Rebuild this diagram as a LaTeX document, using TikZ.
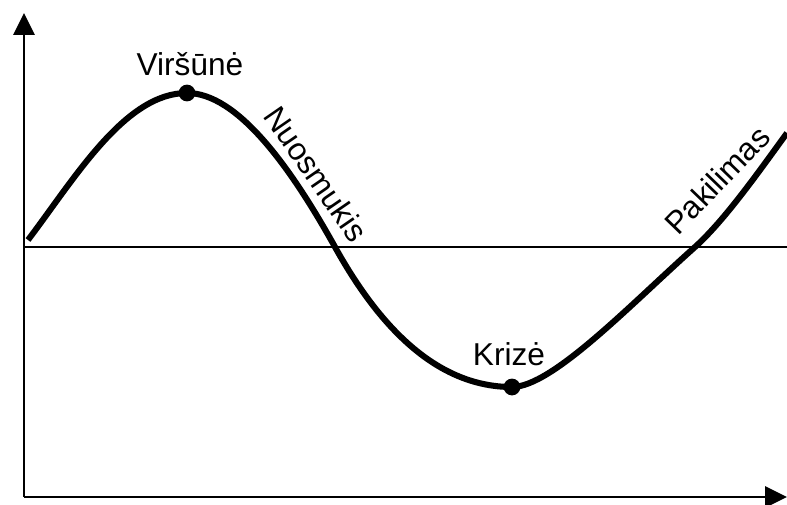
\documentclass[tikz,border=0pt]{standalone}
\usepackage{fontspec}
\setmainfont{Liberation Sans}
\usepackage{tikz}
\usetikzlibrary{arrows.meta,positioning}

\begin{document}
\begin{tikzpicture}[
    axis/.style={line width=2pt, -{Triangle[length=15.6pt, width=15pt]}},
    mid/.style={line width=1.9pt},
    wave/.style={line width=4.3pt},
    dot/.style={circle, fill=black, inner sep=0pt, minimum size=0.42cm},
    lbl/.style={font=\fontsize{22.5}{26}\selectfont, inner sep=0pt}
]
\useasboundingbox (0,0) rectangle (19.675,12.6);

\coordinate (O) at (0.6,0.175);
\coordinate (ytip) at (0.6,12.275);
\coordinate (xtip) at (19.675,0.175);
\coordinate (mleft) at (0.6,6.425);
\coordinate (mright) at (19.675,6.425);

% axes and base line
\draw[axis] (O) -- (ytip);
\draw[axis] (O) -- (xtip);
\draw[mid] (mleft) -- (mright);

% the cycle
\coordinate (start) at (0.7,6.6);
\coordinate (peak) at (4.675,10.275);
\coordinate (down) at (8.375,6.425);
\coordinate (trough) at (12.8,2.925);
\coordinate (up) at (17.375,6.425);
\coordinate (end) at (19.675,9.275);
\draw[wave] (start) .. controls (1.875,8.15) and (3.125,10.275) .. (peak)
    .. controls (5.925,10.275) and (7.25,8.45) .. (down)
    .. controls (9.375,4.625) and (10.8,2.925) .. (trough)
    .. controls (13.8,2.925) and (15.75,4.975) .. (up)
    .. controls (18.125,7.1) and (19.0,8.35) .. (end);

\node[dot] (virsune) at (peak) {};
\node[dot] (krize) at (trough) {};

\node[lbl, anchor=base] (lvirsune) at (4.75,10.725) {Viršūnė};
\node[lbl, anchor=base] (lkrize) at (12.725,3.475) {Krizė};
\node[lbl, rotate=-55.4] (lnuosmukis) at (7.9,8.25) {Nuosmukis};
\node[lbl, rotate=46] (lpakilimas) at (17.925,8.1) {Pakilimas};
\end{tikzpicture}
\end{document}
